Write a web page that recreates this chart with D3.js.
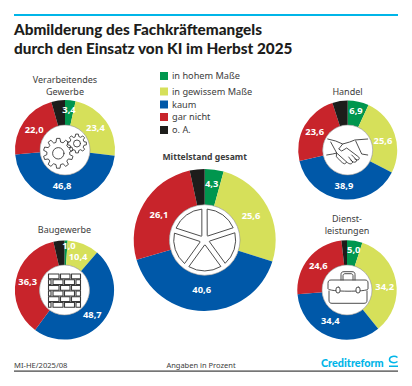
<!DOCTYPE html>
<html lang="de">
<head>
<meta charset="utf-8">
<script src="https://cdn.jsdelivr.net/npm/d3@7"></script>
<style>
html, body { margin: 0; padding: 0; background: #fff; }
svg { display: block; }
text { font-family: "Noto Sans", sans-serif; fill: #3c3c3c; }
.title { font-family: Lato, sans-serif; font-weight: 900; font-size: 15.3px; fill: #1d1d1b; }
.val { font-weight: 700; font-size: 9.4px; fill: #fff; text-anchor: middle; dominant-baseline: middle; }
.name { font-size: 9px; text-anchor: middle; }
.icon { fill: none; stroke: #3a3a3a; stroke-width: 0.9; stroke-linejoin: round; stroke-linecap: round; }
</style>
</head>
<body>
<svg id="chart" width="412" height="386"></svg>
<script>
// Reihenfolge im Uhrzeigersinn ab 12 Uhr
const categories = ["in hohem Maße", "in gewissem Maße", "kaum", "gar nicht", "o. A."];
const colors = ["#00964e", "#d6e05a", "#0058a8", "#c8242b", "#1d1d1b"];

// o. A. hat kein Label, Wert ist der Rest auf 100
const verarbeitend = [3.4, 23.4, 46.8, 22.0, 4.4];
const handel = [6.9, 25.6, 38.9, 23.6, 5.0];
const bau = [1.0, 10.4, 48.7, 36.3, 3.6];
const dienst = [5.0, 34.2, 34.4, 24.6, 1.8];
const gesamt = [4.3, 25.6, 40.6, 26.1, 3.4];

const svg = d3.select("#chart");
const fmt = (v) => v.toFixed(1).replace(".", ",");
const color = d3.scaleOrdinal().domain(categories).range(colors);

// Rahmen
svg.append("rect").attr("x", 14).attr("y", 14).attr("width", 384).attr("height", 2).attr("fill", "#00b5e8");
svg.append("rect").attr("x", 14).attr("y", 370.5).attr("width", 384).attr("height", 1.2).attr("fill", "#3c3c3c");

svg.selectAll(".title").data(["Abmilderung des Fachkräftemangels", "durch den Einsatz von KI im Herbst 2025"])
	.enter().append("text").attr("class", "title")
	.attr("x", 14).attr("y", (d, i) => 34.5 + i * 19).text((d) => d);

// Legende
const legendY = [76, 91.5, 104.5, 117, 130];
const legend = svg.selectAll(".legend").data(categories).enter().append("g")
	.attr("transform", (d, i) => `translate(160,${legendY[i]})`);
legend.append("rect").attr("y", -4).attr("width", 8).attr("height", 8).attr("fill", (d) => color(d));
legend.append("text").attr("x", 12).attr("y", 3).attr("font-size", 9.2).text((d) => d);

// Ein Ring mit Werten
function donut(values, cx, cy, r, ir, offset) {
	const g = svg.append("g").attr("transform", `translate(${cx},${cy})`);
	const arcs = d3.pie().sort(null)(values);
	const arc = d3.arc().innerRadius(ir).outerRadius(r);
	g.selectAll("path.slice").data(arcs).enter().append("path")
		.attr("class", "slice")
		.attr("fill", (d, i) => colors[i])
		.attr("d", arc);
	g.append("circle").attr("r", ir).attr("fill", "#fff").attr("stroke", "#8a8a8a").attr("stroke-width", 0.6);
	const labelArc = d3.arc().innerRadius(r * 0.75).outerRadius(r * 0.75);
	g.selectAll("text.val").data(arcs.slice(0, 4)).enter().append("text")
		.attr("class", "val")
		.attr("transform", (d, i) => {
			const p = labelArc.centroid(d);
			return `translate(${p[0] + offset[i][0]},${p[1] + offset[i][1]})`;
		})
		.text((d) => fmt(d.data));
	return g;
}

// Zahnrad-Umriss
function gear(x, y, rOut, rIn, teeth) {
	const pts = [];
	const step = Math.PI * 2 / teeth;
	for (let i = 0; i < teeth; i++) {
		const a = i * step;
		pts.push([rIn, a - step * 0.32], [rOut, a - step * 0.18], [rOut, a + step * 0.18], [rIn, a + step * 0.32]);
	}
	const line = d3.lineRadial().radius((d) => d[0]).angle((d) => d[1]).curve(d3.curveLinearClosed);
	return { d: line(pts), x, y };
}

// Icons
const g1 = donut(verarbeitend, 65, 150, 50, 25, [[0, -2.7], [0, 0], [-2.5, -1.5], [0, 1.3]]);
[gear(-6.7, 3.3, 15, 11.5, 10), gear(12, -6.5, 9.5, 7.2, 8)].forEach((c) => {
	g1.append("path").attr("class", "icon").attr("d", c.d).attr("transform", `translate(${c.x},${c.y})`);
});
g1.append("circle").attr("class", "icon").attr("cx", -6.7).attr("cy", 3.3).attr("r", 5.7);
g1.append("circle").attr("class", "icon").attr("cx", 12).attr("cy", -6.5).attr("r", 3.5);

const g2 = donut(handel, 347.7, 150, 49.5, 25, [[0.3, -2.8], [0.2, 3.6], [0.8, -0.8], [-0.7, 0.3]]);
g2.append("path").attr("class", "icon")
	.attr("d", "M-20,-11 L-12,-9 L-5,-6 L2,-8 L7,-10 L20,-11 M-21,5 L-15,4 L-11,3 L-17,-8 M20,5 L14,4 L8,-9 M-5,-6 L-9,-1 L-6,1 L-1,-2 L11,7 C13,10 9,11 7,9 M4,5 L9,10 C9,13 5,13 3,10 M1,7 L5,12 C4,15 1,14 -1,12 M-11,3 L-1,12 L-3,14 C-6,13 -9,9 -11,7 Z");

const g3 = donut(bau, 64.5, 290, 49.6, 25, [[3.3, -6.5], [-0.6, 2.1], [-1.2, 1.7], [-0.4, -0.2]]);
const courses = d3.range(6);
const brick = d3.scaleBand().domain(courses).range([-16, 17.3]).paddingInner(0.14);
courses.forEach((row) => {
	const xs = row % 2 ? [[-16, -13.5], [-11.5, -1.5], [0, 10], [11.5, 16]] : [[-16, -5.5], [-4, 5.5], [7, 16]];
	xs.forEach((b) => {
		g3.append("rect").attr("class", "icon").style("stroke-width", 1.1).attr("x", b[0]).attr("y", brick(row))
			.attr("width", b[1] - b[0]).attr("height", brick.bandwidth());
	});
});

const g4 = donut(dienst, 347, 290, 49.7, 25, [[0.9, -2.9], [1, 4.4], [-2.1, -3], [0.2, -0.1]]);
const bag = g4.append("g").attr("transform", "translate(1,0)");
bag.append("path").attr("class", "icon").attr("d", "M-20,-7 C-20,-9 -19,-10 -17,-10 L17,-10 C19,-10 20,-9 20,-7 L20,-1 C20,2 -20,2 -20,-1 Z M-19,1 L-19,10 C-19,12.5 -18,13.3 -16,13.3 L16,13.3 C18,13.3 19,12.5 19,10 L19,1 M-7,-10 L-7,-15.5 C-7,-17.5 -6,-18.3 -4,-18.3 L4,-18.3 C6,-18.3 7,-17.5 7,-15.5 L7,-10 M-5,-10 L-5,-14.5 C-5,-15.5 -4,-16.3 -3,-16.3 L3,-16.3 C4,-16.3 5,-15.5 5,-14.5 L5,-10");
[-10, 10].forEach((x) => {
	bag.append("rect").attr("class", "icon").attr("x", x - 2).attr("y", -3).attr("width", 4).attr("height", 6).attr("rx", 2).style("fill", "#fff");
});

const g5 = donut(gesamt, 204.7, 240, 71, 35.3, [[-0.2, -2.9], [-0.5, 1.3], [-2.3, -3.2], [0, 2.6]]);
// Felge: fünf Segmente zwischen den Speichen
const rim = d3.arc().innerRadius(5).outerRadius(31).padAngle(0.19).padRadius(30);
d3.range(5).forEach((i) => {
	const start = i * 72 * Math.PI / 180;
	g5.append("path").attr("class", "icon").attr("d", rim({ startAngle: start, endAngle: start + 72 * Math.PI / 180 }));
});

// Überschriften der Ringe
const names = [
	[["Verarbeitendes", "Gewerbe"], 65, 83],
	[["Handel"], 347.5, 95],
	[["Baugewerbe"], 64.5, 233],
	[["Dienst-", "leistungen"], 347, 221.5]
];
names.forEach((n) => {
	n[0].forEach((t, i) => {
		svg.append("text").attr("class", "name").attr("x", n[1]).attr("y", n[2] + i * 12).text(t);
	});
});
svg.append("text").attr("x", 204.7).attr("y", 160).attr("text-anchor", "middle")
	.attr("font-size", 8.6).attr("font-weight", 700).text("Mittelstand gesamt");

// Fuß
svg.append("text").attr("x", 14).attr("y", 367.5).attr("font-size", 7.6).text("MI-HE/2025/08");
svg.append("text").attr("x", 201).attr("y", 367.5).attr("font-size", 7.5).attr("text-anchor", "middle").text("Angaben in Prozent");
svg.append("text").attr("x", 321).attr("y", 367).style("font-family", "Lato, sans-serif")
	.attr("font-size", 10.8).attr("font-weight", 900).style("fill", "#00b5e8").text("Creditreform");
svg.append("path").attr("d", "M397.5,357.5 C395,355.5 389.5,356 389.5,359.5 C389.5,363 395,363.5 397.5,361.5").attr("fill", "none").attr("stroke", "#00b5e8").attr("stroke-width", 1.5);
svg.append("rect").attr("x", 389).attr("y", 365.5).attr("width", 9).attr("height", 1.5).attr("fill", "#00b5e8");
</script>
</body>
</html>
